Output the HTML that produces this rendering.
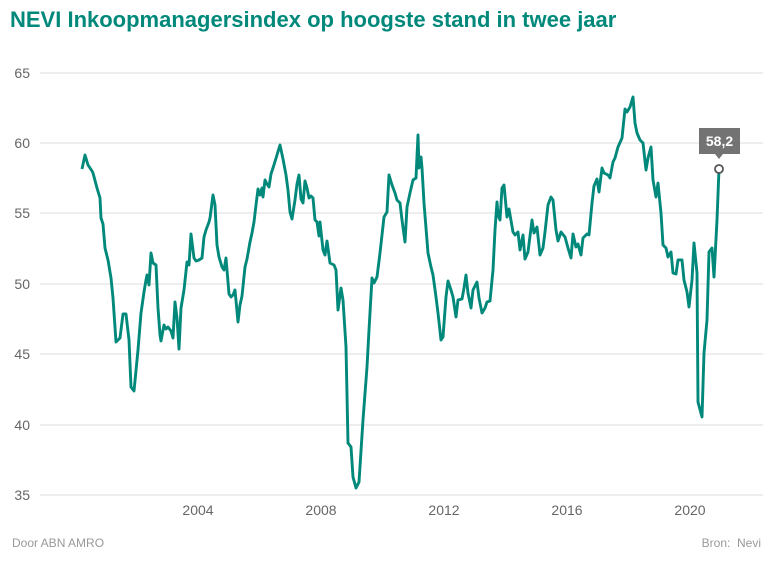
<!DOCTYPE html>
<html><head><meta charset="utf-8"><style>
body{margin:0;background:#fff;width:776px;height:573px;overflow:hidden;font-family:"Liberation Sans",sans-serif}
</style></head><body>
<svg width="776" height="573" xmlns="http://www.w3.org/2000/svg" font-family="Liberation Sans, sans-serif">
<text x="10" y="27" font-size="22" font-weight="bold" fill="#00897b">NEVI Inkoopmanagersindex op hoogste stand in twee jaar</text>
<g stroke="#e8e8e8" stroke-width="1.5">
<line x1="40" x2="763" y1="73" y2="73"/><line x1="40" x2="763" y1="143" y2="143"/><line x1="40" x2="763" y1="213" y2="213"/><line x1="40" x2="763" y1="284" y2="284"/><line x1="40" x2="763" y1="354" y2="354"/><line x1="40" x2="763" y1="425" y2="425"/><line x1="40" x2="763" y1="495" y2="495"/>
</g>
<g font-size="14" fill="#666" text-anchor="end">
<text x="30" y="78">65</text><text x="30" y="148">60</text><text x="30" y="218">55</text><text x="30" y="289">50</text><text x="30" y="359">45</text><text x="30" y="430">40</text><text x="30" y="500">35</text>
</g>
<g font-size="14" fill="#666" text-anchor="middle">
<text x="198" y="515">2004</text><text x="321" y="515">2008</text><text x="444" y="515">2012</text><text x="567" y="515">2016</text><text x="690" y="515">2020</text>
</g>
<polyline fill="none" stroke="#00897b" stroke-width="2.9" stroke-linejoin="round" points="82,169 85,155 88,165 92,171 93,173 97,188 100,198 101,218 103,224 105,248 108,260 111,278 113,298 116,342 118,340 120,338 123,314 126,314 129,340 131,387 134,391 138,350 141,313 144,292 146,280 147,275 149,285 151,253 153,263 156,265 158,308 160,335 161,341 164,325 166,329 168,327 171,331 173,338 175,302 177,318 179,349 181,308 184,290 187,262 189,265 191,234 194,258 196,261 199,260 202,258 204,237 206,230 209,222 210,218 213,195 215,205 217,245 219,257 222,267 224,270 226,258 229,294 231,297 233,295 235,290 238,322 240,305 242,296 245,267 247,259 250,242 252,233 254,222 256,205 258,189 260,195 262,188 263,197 265,180 267,184 269,187 271,174 273,168 277,155 280,145 283,159 286,175 288,190 290,212 292,219 295,200 297,184 299,175 301,199 303,203 305,181 307,188 309,198 311,196 313,198 315,220 317,222 319,236 320,222 323,250 325,255 327,241 330,263 334,265 336,270 338,310 341,288 343,300 346,347 348,443 351,447 353,477 356,488 359,482 363,420 367,367 369,330 372,278 374,283 377,277 380,253 384,217 387,212 389,175 392,185 395,193 397,200 400,203 402,220 405,242 407,207 410,193 413,180 416,178 418,135 419,168 421,157 422,168 424,203 428,253 431,267 433,275 436,297 438,313 441,340 443,337 446,297 448,281 451,290 453,297 456,317 458,300 462,299 464,288 466,275 468,293 471,308 473,290 477,282 479,298 482,313 485,308 487,302 490,301 493,270 495,230 497,202 498,215 500,220 502,188 504,185 507,217 509,209 513,232 515,235 518,232 520,250 523,235 525,259 528,252 532,220 534,233 537,227 540,255 543,248 545,232 548,205 551,197 553,200 556,230 558,241 561,232 565,237 568,248 571,258 573,234 576,247 578,244 581,255 583,238 587,234 589,235 592,203 594,186 597,179 599,192 602,168 604,173 608,175 610,178 613,162 615,158 618,147 622,138 625,109 627,112 630,107 633,97 635,123 637,133 640,140 643,143 646,170 648,158 651,147 653,180 656,197 658,183 661,213 663,245 666,248 668,257 671,252 673,273 676,274 678,260 682,260 684,280 687,292 689,307 692,280 694,243 697,273 698,402 702,417 704,353 707,320 709,252 712,248 714,277 717,220 719,169"/>
<circle cx="719" cy="169" r="4" fill="#fff" stroke="#555" stroke-width="1.8"/>
<rect x="699" y="128" width="41" height="26" fill="#737373"/>
<polygon points="715,154 723,154 719,159" fill="#737373"/>
<text x="719.5" y="146" font-size="14" font-weight="bold" fill="#fff" text-anchor="middle">58,2</text>
<text x="12" y="547" font-size="12" fill="#999">Door ABN AMRO</text>
<text x="761" y="547" font-size="12" fill="#999" text-anchor="end" xml:space="preserve">Bron:  Nevi</text>
</svg>
</body></html>
